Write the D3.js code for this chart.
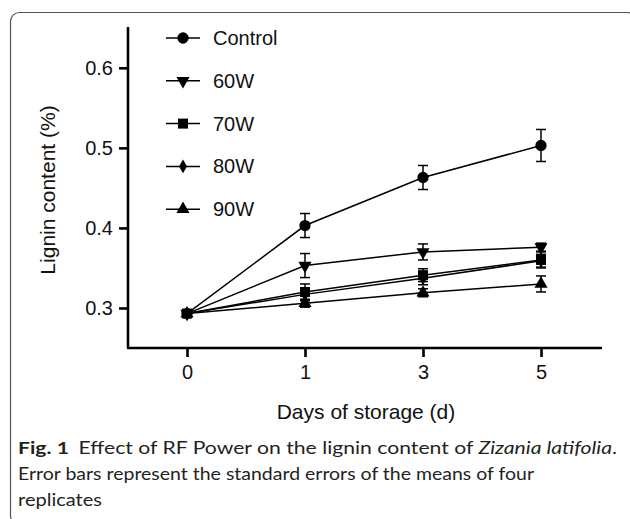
<!DOCTYPE html>
<html>
<head>
<meta charset="utf-8">
<script src="https://cdn.jsdelivr.net/npm/d3@7"></script>
<style>
  html, body { margin: 0; padding: 0; background: #fff; }
  svg { display: block; }
</style>
</head>
<body>
<svg id="chart" width="630" height="519"></svg>
<script>
// ---- data ----
const days = ["0", "1", "3", "5"];
const seriesNames = ["Control", "60W", "70W", "80W", "90W"];
const markerTypes = ["circle", "triangleDown", "square", "diamond", "triangle"];
const controlMean = [0.293, 0.403, 0.463, 0.503];
const controlErr  = [0.002, 0.015, 0.015, 0.020];
const w60Mean = [0.293, 0.353, 0.370, 0.376];
const w60Err  = [0.002, 0.015, 0.010, 0.005];
const w70Mean = [0.293, 0.320, 0.341, 0.360];
const w70Err  = [0.002, 0.010, 0.008, 0.010];
const w80Mean = [0.293, 0.317, 0.337, 0.359];
const w80Err  = [0.002, 0.008, 0.008, 0.008];
const w90Mean = [0.293, 0.306, 0.319, 0.330];
const w90Err  = [0.002, 0.005, 0.005, 0.010];
const yTicks = [0.3, 0.4, 0.5, 0.6];

const means = [controlMean, w60Mean, w70Mean, w80Mean, w90Mean];
const errs = [controlErr, w60Err, w70Err, w80Err, w90Err];

const svg = d3.select("#chart");

// frame
svg.append("rect")
  .attr("x", 10.5).attr("y", 12.5)
  .attr("width", 626).attr("height", 512)
  .attr("rx", 9).attr("ry", 9)
  .attr("fill", "none").attr("stroke", "#555").attr("stroke-width", 1.2);

const x = d3.scalePoint().domain(days).range([187, 541]);
const y = d3.scaleLinear().domain([0.25, 0.651]).range([348, 27]);

const axisFont = "'Liberation Sans', Arial, sans-serif";

// axes
const gx = svg.append("g").attr("transform", "translate(0,348)")
  .call(d3.axisBottom(x).tickSize(9).tickPadding(8));
gx.select(".domain").attr("d", "M127,0H602");
const gy = svg.append("g").attr("transform", "translate(128,0)")
  .call(d3.axisLeft(y).tickValues(yTicks).tickFormat(d3.format(".1f")).tickSize(9).tickPadding(6));
gy.select(".domain").attr("d", "M0,348V27");

[gx, gy].forEach(g => {
  g.selectAll(".domain").attr("stroke", "#000").attr("stroke-width", 2.6);
  g.selectAll(".tick line").attr("stroke", "#000").attr("stroke-width", 2.6);
  g.selectAll(".tick text").attr("fill", "#111")
    .style("font-family", axisFont).style("font-size", "20px");
});

// axis titles
svg.append("text")
  .attr("x", 366).attr("y", 419)
  .attr("text-anchor", "middle")
  .style("font-family", axisFont).style("font-size", "21px").attr("fill", "#111")
  .text("Days of storage (d)");
svg.append("text")
  .attr("transform", "translate(55,190) rotate(-90)")
  .attr("text-anchor", "middle")
  .style("font-family", axisFont).style("font-size", "21px").attr("fill", "#111")
  .text("Lignin content (%)");

// markers
const symMap = {
  circle: d3.symbol().type(d3.symbolCircle).size(100),
  square: d3.symbol().type(d3.symbolSquare).size(100),
  triangle: d3.symbol().type(d3.symbolTriangle).size(75),
  triangleDown: d3.symbol().type(d3.symbolTriangle).size(75),
  diamond: d3.symbol().type(d3.symbolDiamond).size(55)
};
function marker(g, type, cx, cy) {
  const rot = type === "triangleDown" ? " rotate(180)" : "";
  g.append("path").attr("d", symMap[type]())
    .attr("transform", `translate(${cx},${cy})${rot}`)
    .attr("fill", "#000");
}

const line = d3.line().x((d, i) => x(days[i])).y(d => y(d));

seriesNames.forEach((name, s) => {
  const g = svg.append("g");
  g.append("path").datum(means[s]).attr("d", line)
    .attr("fill", "none").attr("stroke", "#000").attr("stroke-width", 1.5);
  means[s].forEach((m, i) => {
    const cx = x(days[i]);
    const e = errs[s][i];
    const y1 = y(m + e), y2 = y(m - e);
    g.append("line").attr("x1", cx).attr("x2", cx).attr("y1", y1).attr("y2", y2)
      .attr("stroke", "#000").attr("stroke-width", 1.5);
    [y1, y2].forEach(yy => g.append("line").attr("x1", cx - 5).attr("x2", cx + 5)
      .attr("y1", yy).attr("y2", yy).attr("stroke", "#000").attr("stroke-width", 1.5));
    marker(g, markerTypes[s], cx, y(m));
  });
});

// legend
const legY0 = 38, legDy = 42.8;
seriesNames.forEach((name, s) => {
  const ly = legY0 + s * legDy;
  const g = svg.append("g");
  g.append("line").attr("x1", 166).attr("x2", 200).attr("y1", ly).attr("y2", ly)
    .attr("stroke", "#000").attr("stroke-width", 1.5);
  marker(g, markerTypes[s], 183, ly);
  g.append("text").attr("x", 213).attr("y", ly + 7)
    .style("font-family", axisFont).style("font-size", "20px").attr("fill", "#111")
    .text(name);
});

// caption
const capFont = "Lato, 'Open Sans', sans-serif";
const cap1 = svg.append("text").attr("x", 18).attr("y", 454)
  .style("font-family", capFont).style("font-size", "17.5px").attr("fill", "#231f20");
cap1.append("tspan").style("font-weight", "bold").text("Fig. 1");
cap1.append("tspan").attr("dx", 8).text("Effect of RF Power on the lignin content of ");
cap1.append("tspan").style("font-style", "italic").text("Zizania latifolia");
cap1.append("tspan").text(".");
const cap2 = svg.append("text").attr("x", 18).attr("y", 480)
  .style("font-family", capFont).style("font-size", "17.5px").attr("fill", "#231f20")
  .text("Error bars represent the standard errors of the means of four");
const cap3 = svg.append("text").attr("x", 18).attr("y", 506)
  .style("font-family", capFont).style("font-size", "17.5px").attr("fill", "#231f20")
  .text("replicates");

// fit caption widths to reference
function fit(t, target) {
  t.attr("textLength", target).attr("lengthAdjust", "spacingAndGlyphs");
}
fit(cap1, 599);
fit(cap2, 516);
fit(cap3, 84);
</script>
</body>
</html>
